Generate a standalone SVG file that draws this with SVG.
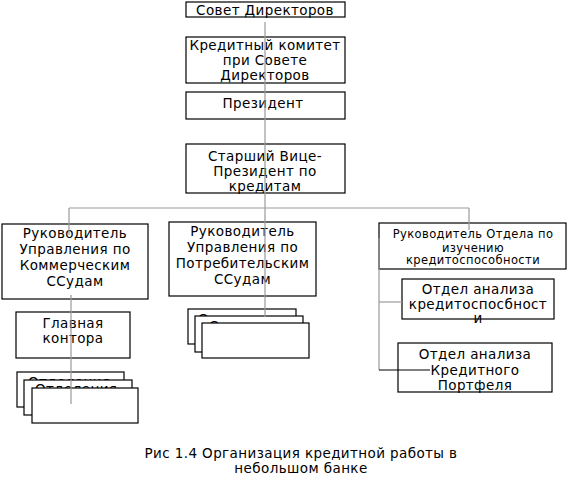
<svg xmlns="http://www.w3.org/2000/svg" width="569" height="489" viewBox="0 0 569 489">
<style>
  .box { fill: #fff; stroke: #000; stroke-width: 1.2; }
  .t { font-family: "DejaVu Sans", sans-serif; font-size: 13.5px; letter-spacing: 0.4px; fill: #000; text-anchor: middle; }
  .ts { font-size: 11.5px; letter-spacing: 0.4px; }
  .tl { text-anchor: start; }
  .conn line { stroke: #999; stroke-width: 1.2; }
</style>
<rect width="569" height="489" fill="#fff"/>
<g id="n-sovet">
  <rect class="box" x="186" y="2" width="159" height="15"/>
  <text class="t" x="265" y="15">Совет Директоров</text>
</g>
<g id="n-komitet">
  <rect class="box" x="186" y="37" width="159" height="46"/>
  <text class="t" x="265" y="49.5">Кредитный комитет</text>
  <text class="t" x="265" y="65">при Совете</text>
  <text class="t" x="265" y="80">Директоров</text>
</g>
<g id="n-president">
  <rect class="box" x="186" y="92" width="159" height="27"/>
  <text class="t" x="263" y="107.5">Президент</text>
</g>
<g id="n-vp">
  <rect class="box" x="186" y="144" width="159" height="49"/>
  <text class="t" x="265" y="161">Старший Вице-</text>
  <text class="t" x="265" y="176">Президент по</text>
  <text class="t" x="265" y="191">кредитам</text>
</g>
<g id="n-comm">
  <rect class="box" x="2" y="224" width="146" height="75"/>
  <text class="t" x="75" y="237.5">Руководитель</text>
  <text class="t" x="75" y="253.5">Управления по</text>
  <text class="t" x="75" y="269.5">Коммерческим</text>
  <text class="t" x="75" y="285.5">ССудам</text>
</g>
<g id="n-potreb">
  <rect class="box" x="169" y="222" width="147" height="74"/>
  <text class="t" x="242.5" y="236">Руководитель</text>
  <text class="t" x="242.5" y="252">Управления по</text>
  <text class="t" x="242.5" y="268">Потребительским</text>
  <text class="t" x="242.5" y="283.5">ССудам</text>
</g>
<g id="n-otdel">
  <rect class="box" x="379" y="223" width="187" height="46"/>
  <text class="t ts" x="473" y="238">Руководитель Отдела по</text>
  <text class="t ts" x="473" y="251.5">изучению</text>
  <text class="t ts" x="473" y="264">кредитоспособности</text>
</g>
<g id="n-analiz1">
  <rect class="box" x="402" y="279" width="152" height="40"/>
  <text class="t" x="478" y="294">Отдел анализа</text>
  <text class="t" x="478" y="308.5">кредитоспосбност</text>
  <text class="t" x="478" y="323">и</text>
</g>
<g id="n-analiz2">
  <rect class="box" x="398" y="343" width="154" height="49"/>
  <text class="t" x="475" y="359">Отдел анализа</text>
  <text class="t" x="475" y="375">Кредитного</text>
  <text class="t" x="475" y="390">Портфеля</text>
</g>
<g id="n-glavnaya">
  <rect class="box" x="16" y="312" width="114" height="46"/>
  <text class="t" x="73" y="327.5">Главная</text>
  <text class="t" x="73" y="342.5">контора</text>
</g>
<g id="n-otdeleniya-left">
  <rect class="box" x="17" y="372" width="107" height="35"/>
  <text class="t tl" x="28" y="387">Отделения</text>
  <rect class="box" x="24" y="380" width="108" height="35"/>
  <text class="t tl" x="35" y="393.5">Отделения</text>
  <rect class="box" x="32" y="388" width="106" height="35"/>
</g>
<g id="n-otdeleniya-mid">
  <rect class="box" x="188" y="309" width="108" height="35"/>
  <text class="t tl" x="198" y="323.5">Отделения</text>
  <rect class="box" x="195" y="316" width="108" height="36"/>
  <text class="t tl" x="209" y="330.5">Отделения</text>
  <rect class="box" x="202" y="323" width="107" height="35"/>
</g>
<g id="connectors" class="conn">
  <line x1="265" y1="22" x2="265" y2="317"/>
  <line x1="69" y1="208" x2="469" y2="208"/>
  <line x1="69" y1="208" x2="69" y2="235"/>
  <line x1="469" y1="208" x2="469" y2="230"/>
  <line x1="71" y1="295" x2="71" y2="404"/>
  <line x1="379" y1="238" x2="379" y2="370"/>
  <line x1="379" y1="302" x2="402" y2="302"/>
  <line x1="379" y1="370" x2="430" y2="370" style="stroke:#000"/>
</g>
<g id="caption">
  <text class="t" x="301" y="457.5">Рис 1.4 Организация кредитной работы в</text>
  <text class="t" x="301" y="473">небольшом банке</text>
</g>
</svg>
